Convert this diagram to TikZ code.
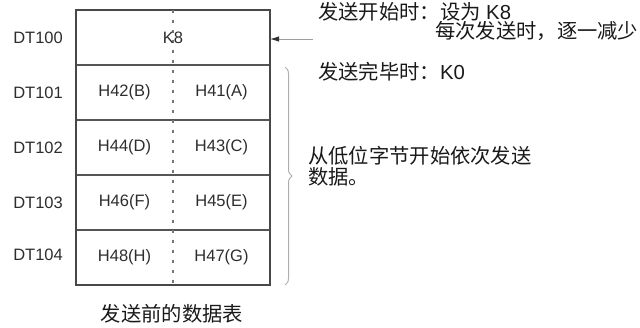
\documentclass[tikz,border=0pt]{standalone}
\usepackage{fontspec}
\setmainfont{Liberation Sans}
\newfontfamily\cjk{Noto Sans CJK SC}
\usepackage{tikz}
\usetikzlibrary{arrows.meta, positioning, fit, calc, decorations.pathreplacing}
\definecolor{cline}{RGB}{85,85,85}
\definecolor{ctext}{RGB}{45,45,45}
\definecolor{cbrace}{RGB}{175,175,175}

\begin{document}
\begin{tikzpicture}[
  x=1pt, y=-1pt,
  rowbox/.style = {rectangle, draw=cline, line width=1.8pt, outer sep=0pt,
                   minimum width=194pt, minimum height=55pt, inner sep=0pt},
  frame/.style  = {rectangle, draw=cline!85!black, line width=2.6pt, inner sep=0pt},
  cell/.style   = {inner sep=0pt, text=ctext, font=\fontsize{16.5}{18}\selectfont},
  lbl/.style    = {inner sep=0pt, text=ctext, font=\fontsize{16.5}{18}\selectfont},
  note/.style   = {inner sep=0pt, anchor=west, text=black!90,
                   font=\fontsize{20.3}{21}\selectfont},
  midline/.style= {cline!80, line width=1.6pt, dash pattern=on 3pt off 7pt},
  arr/.style    = {-{Latex[length=9pt, width=5.5pt, color=black!80]}, gray!75, line width=0.9pt},
  brace/.style  = {decorate, decoration={brace, amplitude=7pt}, cbrace, line width=1pt},
]
\useasboundingbox (0,0) rectangle (640,327);
% Table rows
\node[rowbox] (r0) at (173,37.5) {};
\node[rowbox, below=0pt of r0] (r1) {};
\node[rowbox, below=0pt of r1] (r2) {};
\node[rowbox, below=0pt of r2] (r3) {};
\node[rowbox, below=0pt of r3] (r4) {};
\node[frame, fit=(r0)(r4)] (tbl) {};
\draw[midline] (r0.north) -- (r4.south);
% Cell contents
\node[cell] (k8) at (r0.center) {K8};
\node[cell] (hb) at ($(r1.west)!0.5!(r1.center)$) {H42(B)};
\node[cell] (ha) at ($(r1.center)!0.5!(r1.east)$) {H41(A)};
\node[cell] (hd) at ($(r2.west)!0.5!(r2.center)$) {H44(D)};
\node[cell] (hc) at ($(r2.center)!0.5!(r2.east)$) {H43(C)};
\node[cell] (hf) at ($(r3.west)!0.5!(r3.center)$) {H46(F)};
\node[cell] (he) at ($(r3.center)!0.5!(r3.east)$) {H45(E)};
\node[cell] (hh) at ($(r4.west)!0.5!(r4.center)$) {H48(H)};
\node[cell] (hg) at ($(r4.center)!0.5!(r4.east)$) {H47(G)};
% Register labels
\node[lbl, left=13pt of r0] (dt100) {DT100};
\node[lbl, left=13pt of r1] (dt101) {DT101};
\node[lbl, left=13pt of r2] (dt102) {DT102};
\node[lbl, left=13pt of r3] (dt103) {DT103};
\node[lbl, left=13pt of r4, yshift=3pt] (dt104) {DT104};
% Notes on the right
\node[note] (start) at (318,12) {{\cjk 发送开始时：设为} K8};
\node[note] (dec)   at (435,31) {\cjk 每次发送时，逐一减少};
\node[note] (done)  at (318,72) {{\cjk 发送完毕时：}K0};
\node[note, anchor=north west, align=left] (order) at (308,146)
  {\cjk 从低位字节开始依次发送\\\cjk 数据。};
\coordinate (src) at (313,39);
\draw[arr] (src) -- (r0.east |- src);
\draw[brace] ($(r1.north east)+(15,2)$) -- ($(r4.south east)+(15,0)$);
% Caption
\node[note, anchor=center] (caption) at (172,314) {\cjk 发送前的数据表};
\end{tikzpicture}
\end{document}
